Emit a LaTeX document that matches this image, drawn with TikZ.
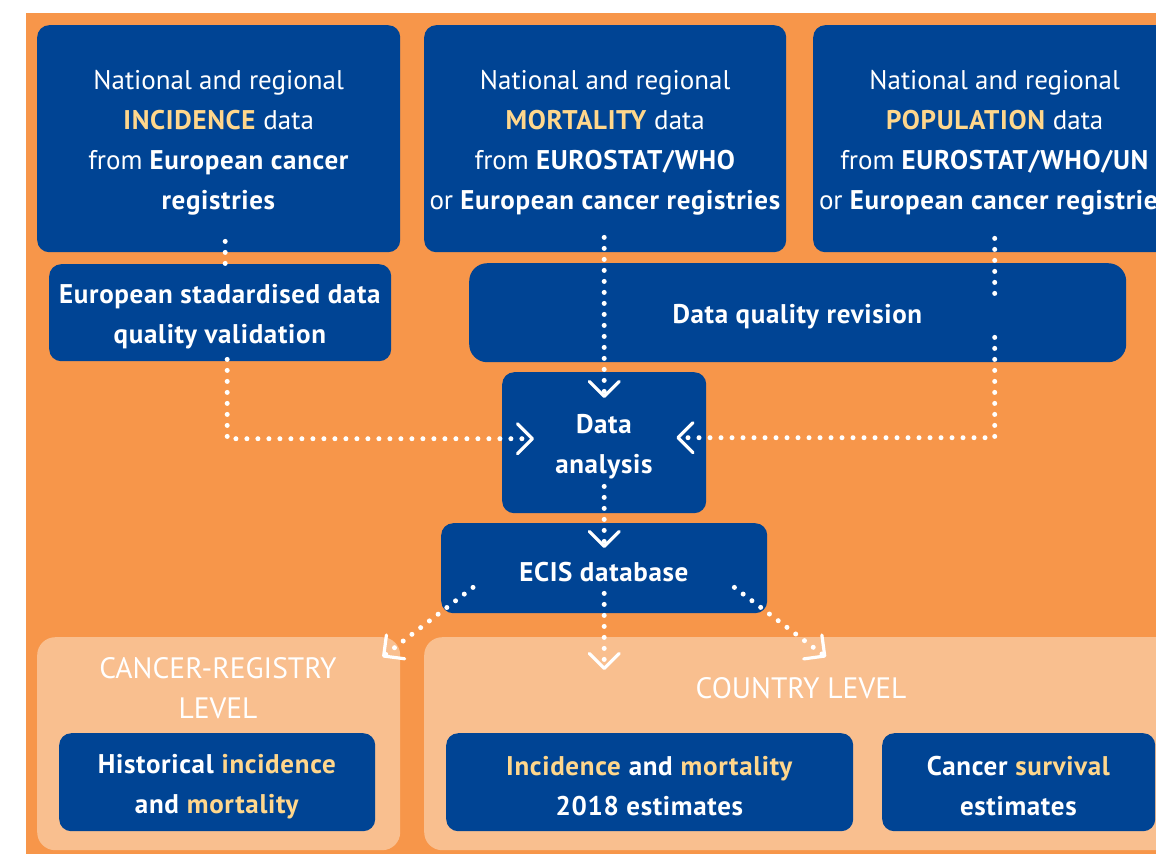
\documentclass[tikz,border=0pt]{standalone}
\usepackage{fontspec}
\setmainfont{PT Sans}[BoldFeatures={LetterSpace=2.5}]
\usetikzlibrary{arrows.meta,calc}
\definecolor{ecblue}{HTML}{004494}
\definecolor{ecorange}{HTML}{F7964A}
\definecolor{eclight}{HTML}{F9BF8F}
\definecolor{ecgold}{HTML}{FFD78C}
\newcommand\hl[1]{\textcolor{ecgold}{#1}}
\begin{document}
\begin{tikzpicture}[x=1pt,y=-1pt,
  box/.style={fill=ecblue, rounded corners=12pt, inner sep=0pt, anchor=north west},
  boxtext/.style={text=white, align=center, font=\fontsize{27}{40}\selectfont, inner sep=0pt, yshift=-4pt},
  lightbox/.style={fill=eclight, rounded corners=18pt, inner sep=0pt, anchor=north west},
  title/.style={text=white, align=center, font=\fontsize{29.5}{40}\selectfont},
  dots/.style={white, line width=5pt, line cap=round, dash pattern=on 0pt off 11pt},
  arr/.style={-{Straight Barb[length=15pt,width=30pt,line width=3.2pt,round]}}]
\useasboundingbox (0,0) rectangle (1156,854);
\clip (0,0) rectangle (1156,854);
\fill[white] (0,0) rectangle (1156,854);
\fill[ecorange] (26,13) rectangle (1156,854);

% top sources
\node[box, minimum width=363pt, minimum height=227pt,
  label={[boxtext]center:{National and regional\\ \hl{\textbf{INCIDENCE}} data\\ from \textbf{European cancer}\\ \textbf{registries}}}]
  (inc) at (37,25) {};
\node[box, minimum width=362pt, minimum height=227pt,
  label={[boxtext]center:{National and regional\\ \hl{\textbf{MORTALITY}} data\\ from \textbf{EUROSTAT/WHO}\\ or \textbf{European cancer registries}}}]
  (mor) at (424,25) {};
\node[box, minimum width=363pt, minimum height=227pt,
  label={[boxtext]center:{National and regional\\ \hl{\textbf{POPULATION}} data\\ from \textbf{EUROSTAT/WHO/UN}\\ or \textbf{European cancer registries}}}]
  (pop) at (813,25) {};

% second row
\node[box, minimum width=342pt, minimum height=97pt,
  label={[boxtext]center:{\textbf{European stadardised data}\\ \textbf{quality validation}}}]
  (val) at (49,264) {};
\node[box, rounded corners=18pt, minimum width=657pt, minimum height=99pt,
  label={[boxtext]center:{\textbf{Data quality revision}}}]
  (dqr) at (469,263) {};

\node[box, minimum width=204pt, minimum height=141pt,
  label={[boxtext]center:{\textbf{Data}\\ \textbf{analysis}}}]
  (ana) at (502,372) {};
\node[box, minimum width=326pt, minimum height=90pt,
  label={[boxtext]center:{\textbf{ECIS database}}}]
  (ecis) at (441,523) {};

% bottom levels
\node[lightbox, minimum width=363pt, minimum height=213pt] (reg) at (37,637) {};
\node[lightbox, minimum width=760pt, minimum height=213pt] (cty) at (424,637) {};
\node[title] (regt) at (218,688) {CANCER-REGISTRY\\LEVEL};
\node[title] (ctyt) at (801,688) {COUNTRY LEVEL};

\node[box, minimum width=316pt, minimum height=98pt,
  label={[boxtext]center:{\textbf{Historical} \hl{\textbf{incidence}}\\ \textbf{and} \hl{\textbf{mortality}}}}]
  (hist) at (59,733) {};
\node[box, minimum width=407pt, minimum height=98pt,
  label={[boxtext]center:{\hl{\textbf{Incidence}} \textbf{and} \hl{\textbf{mortality}}\\ \textbf{2018 estimates}}}]
  (inc18) at (446,733) {};
\node[box, minimum width=273pt, minimum height=98pt,
  label={[boxtext]center:{\textbf{Cancer} \hl{\textbf{survival}}\\ \textbf{estimates}}}]
  (surv) at (882,733) {};

% connectors
\draw[dots] ($(inc.south)+(6.5,-11)$) -- ($(val.north)+(5,8)$);
\draw[dots,arr] ($(mor.south)+(-1,-15)$) -- ($(ana.north)+(0,26)$);
\draw[dots] ($(pop.south)+(0,-14)$) -- ($(pop.south |- dqr.north)+(0,33)$);
\draw[dots,arr] ($(pop.south |- dqr.south)+(0,-25)$) |- ($(ana.east)+(-30,-5)$);
\draw[dots,arr] ($(val.south)+(7,-2)$) |- ($(ana.west)+(32,-4)$);
\draw[dots,arr] ($(ana.south)+(0,-27)$) -- ($(ecis.north)+(0,25)$);
\draw[dots,arr] ($(ecis.south)+(0,-20)$) -- ($(ecis.south |- cty.north)+(0,33)$);
\draw[dots,arr] ($(ecis.south west)+(32,-26)$) -- ($(reg.north east)+(-18,20)$);
\draw[dots,arr] ($(ecis.south east)+(-33,-26)$) -- ($(cty.north west)+(402,20)$);
\end{tikzpicture}
\end{document}
